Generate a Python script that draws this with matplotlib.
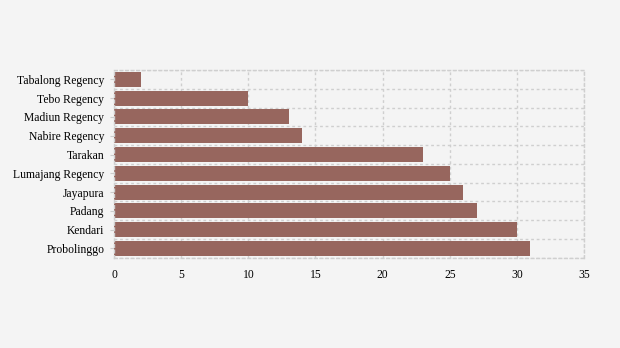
import matplotlib.pyplot as plt
import numpy as np

# Data per city / regency, bottom to top
kota = ['Probolinggo', 'Kendari', 'Padang', 'Jayapura', 'Lumajang Regency',
        'Tarakan', 'Nabire Regency', 'Madiun Regency', 'Tebo Regency', 'Tabalong Regency']
nilai = [31, 30, 27, 26, 25, 23, 14, 13, 10, 2]
x_ticks = [0, 5, 10, 15, 20, 25, 30, 35]

plt.rcParams['font.family'] = ['Liberation Serif', 'DejaVu Serif']

fig = plt.figure(figsize=(6.2, 3.48), dpi=100, facecolor='#f4f4f4')
ax = fig.add_axes([0.184, 0.259, 0.758, 0.540])
ax.set_facecolor('#f4f4f4')

pos = np.arange(len(kota))
ax.barh(pos, nilai, height=0.8, color='#97665e', zorder=2)

ax.set_xlim(0, 35)
ax.set_ylim(-0.5, len(kota) - 0.5)
ax.set_xticks(x_ticks)
ax.set_yticks(pos)
ax.set_yticklabels(kota)

# dotted grid: vertical at ticks, horizontal between categories
ax.set_yticks(np.arange(-0.5, len(kota), 1), minor=True)
ax.grid(axis='x', which='major', linestyle=(0, (2, 2)), color='#cfcfcf', linewidth=1, zorder=1)
ax.grid(axis='y', which='minor', linestyle=(0, (2, 2)), color='#cfcfcf', linewidth=1, zorder=3)
ax.tick_params(axis='y', which='minor', length=0)
ax.tick_params(axis='y', which='major', length=3, color='#cccccc', labelsize=8.4, pad=4)
ax.tick_params(axis='x', length=0, labelsize=8.4, pad=8)

for s in ax.spines.values():
    s.set_linestyle((0, (2, 2)))
    s.set_color('#cfcfcf')
    s.set_linewidth(1)

fig.savefig('out.png', dpi=100, facecolor=fig.get_facecolor())
